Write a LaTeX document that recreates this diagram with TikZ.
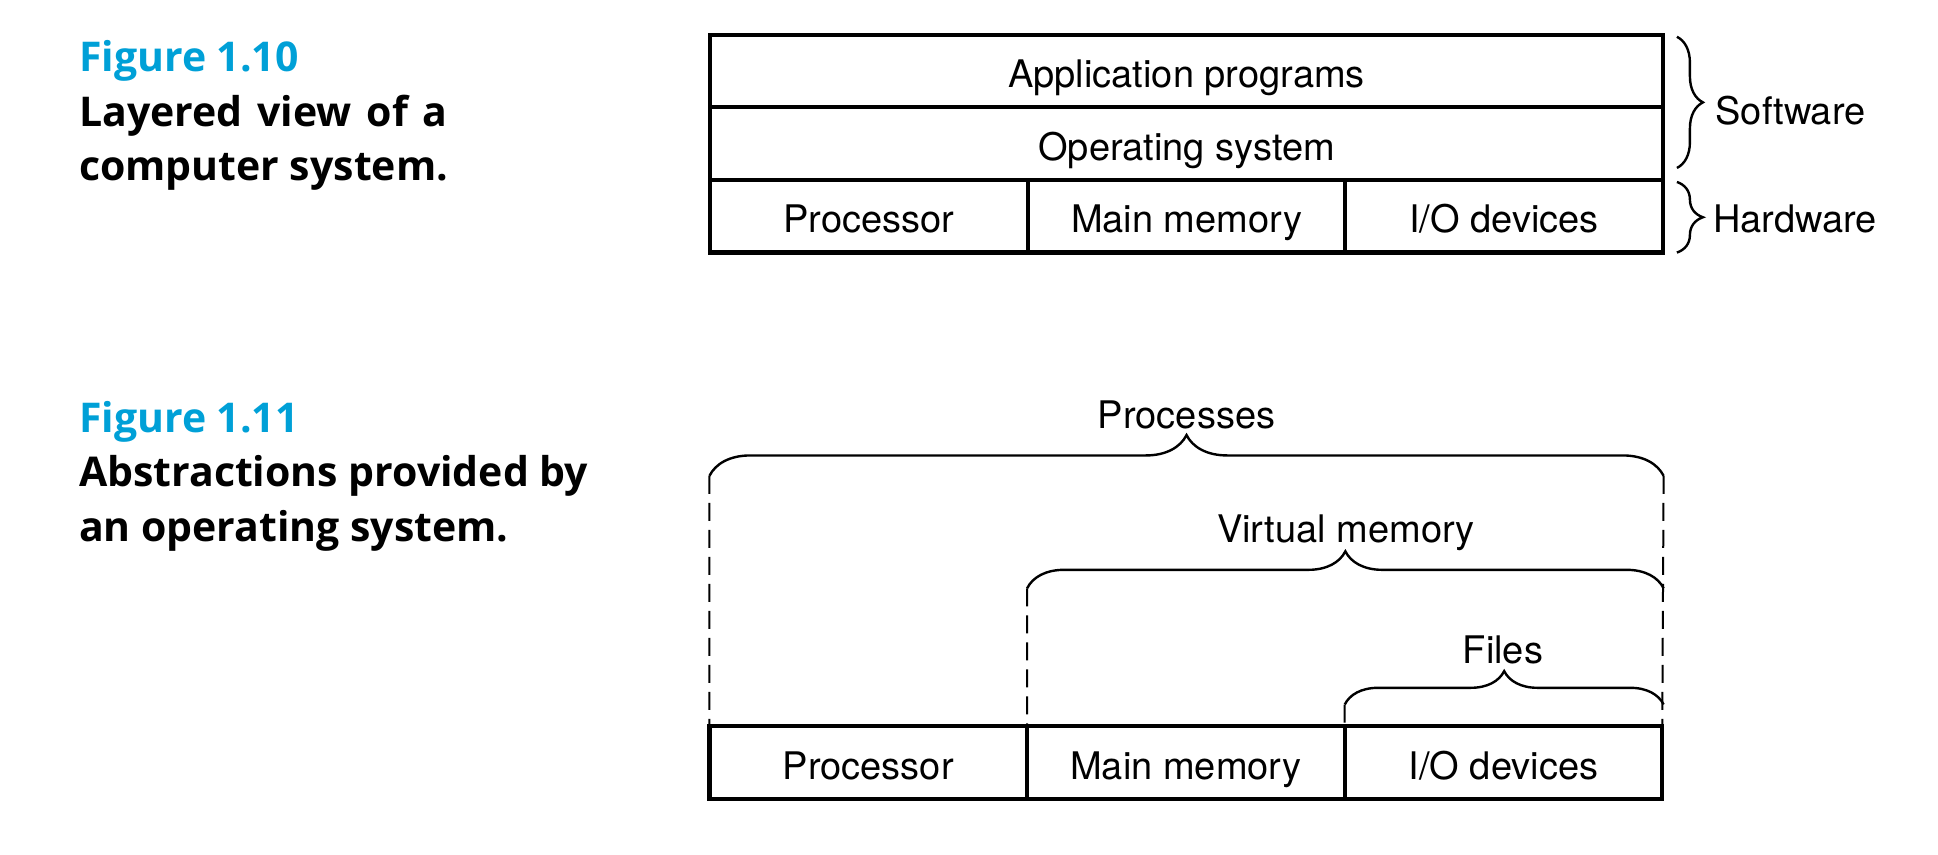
\documentclass[tikz,border=0pt]{standalone}
\usepackage{fontspec}
\setmainfont{TeX Gyre Heros}
\newfontfamily\capfont{Open Sans}
\usetikzlibrary{positioning,decorations.pathreplacing}
\definecolor{figblue}{RGB}{0,160,215}

\begin{document}
\begin{tikzpicture}[
  x=0.618pt, y=-0.618pt,
  every node/.style={font=\fontsize{19}{22}\selectfont, inner sep=0pt, outer sep=0pt,
    text height=13.6pt, text depth=0pt},
  cell/.style={draw, line width=2.1pt, minimum width=158.8pt, minimum height=36.3pt,
    text height=16.4pt, text depth=0pt},
  wide/.style={cell, minimum width=476.4pt},
  figno/.style={anchor=base west, text=figblue, font=\capfont\bfseries\fontsize{20.5}{24}\selectfont},
  figtext/.style={anchor=base west, font=\capfont\bfseries\fontsize{20.5}{24}\selectfont},
  curly/.style={decorate, line width=1.2pt, decoration={brace, amplitude=#1}},
  guide/.style={line width=1pt, dash pattern=on 9pt off 4.5pt}
]
\useasboundingbox (0,0) rectangle (1568,691);

% Captions
\node[figno] (fig10) at (64,58) {Figure 1.10};
\node[figtext] (fig10a) at (64,102) {\makebox[184.2pt][s]{Layered view of a}};
\node[figtext] (fig10b) at (64,146) {computer system.};
\node[figno] (fig11) at (64,350) {Figure 1.11};
\node[figtext] (fig11a) at (64,394) {Abstractions provided by};
\node[figtext] (fig11b) at (64,438) {an operating system.};

% Layered view
\node[wide] (app) at (960,57.5) {Application programs};
\node[wide, below=0pt of app] (os) {Operating system};
\node[cell, below right=0pt and 0pt of os.south west] (cpu) {Processor};
\node[cell, right=0pt of cpu] (mem) {Main memory};
\node[cell, right=0pt of mem] (io) {I/O devices};

\draw[curly=13pt] ([xshift=7pt, yshift=-1pt]app.north east) -- ([xshift=7pt, yshift=6pt]os.south east);
\draw[curly=13pt] ([xshift=7pt, yshift=-1pt]io.north east) -- ([xshift=7pt]io.south east);
\node[anchor=west] (soft) at (1388,90) {Software};
\node[anchor=west] (hard) at (1386,177) {Hardware};

% Abstractions
\node[cell] (cpu2) at (702.5,617) {Processor};
\node[cell, right=0pt of cpu2] (mem2) {Main memory};
\node[cell, right=0pt of mem2] (io2) {I/O devices};

\coordinate (procL) at (574,385);
\coordinate (procR) at (1346,385);
\coordinate (vmL) at (831,476);
\coordinate (vmR) at (1346,476);
\coordinate (fileL) at (1088,570);
\coordinate (fileR) at (1346,570);

\draw[curly=20.4pt] (procL) -- (procR);
\draw[curly=18.5pt] (vmL) -- (vmR);
\draw[curly=16.7pt] (fileL) -- (fileR);

\draw[guide] (procL) -- (cpu2.north west);
\draw[guide] (procR) -- (io2.north east);
\draw[guide] (vmL) -- (mem2.north west);
\draw[guide] (fileL) -- (io2.north west);

\node (proc) at (960,336) {Processes};
\node (vm) at (1089,428) {Virtual memory};
\node (files) at (1216,526) {Files};

\end{tikzpicture}
\end{document}
